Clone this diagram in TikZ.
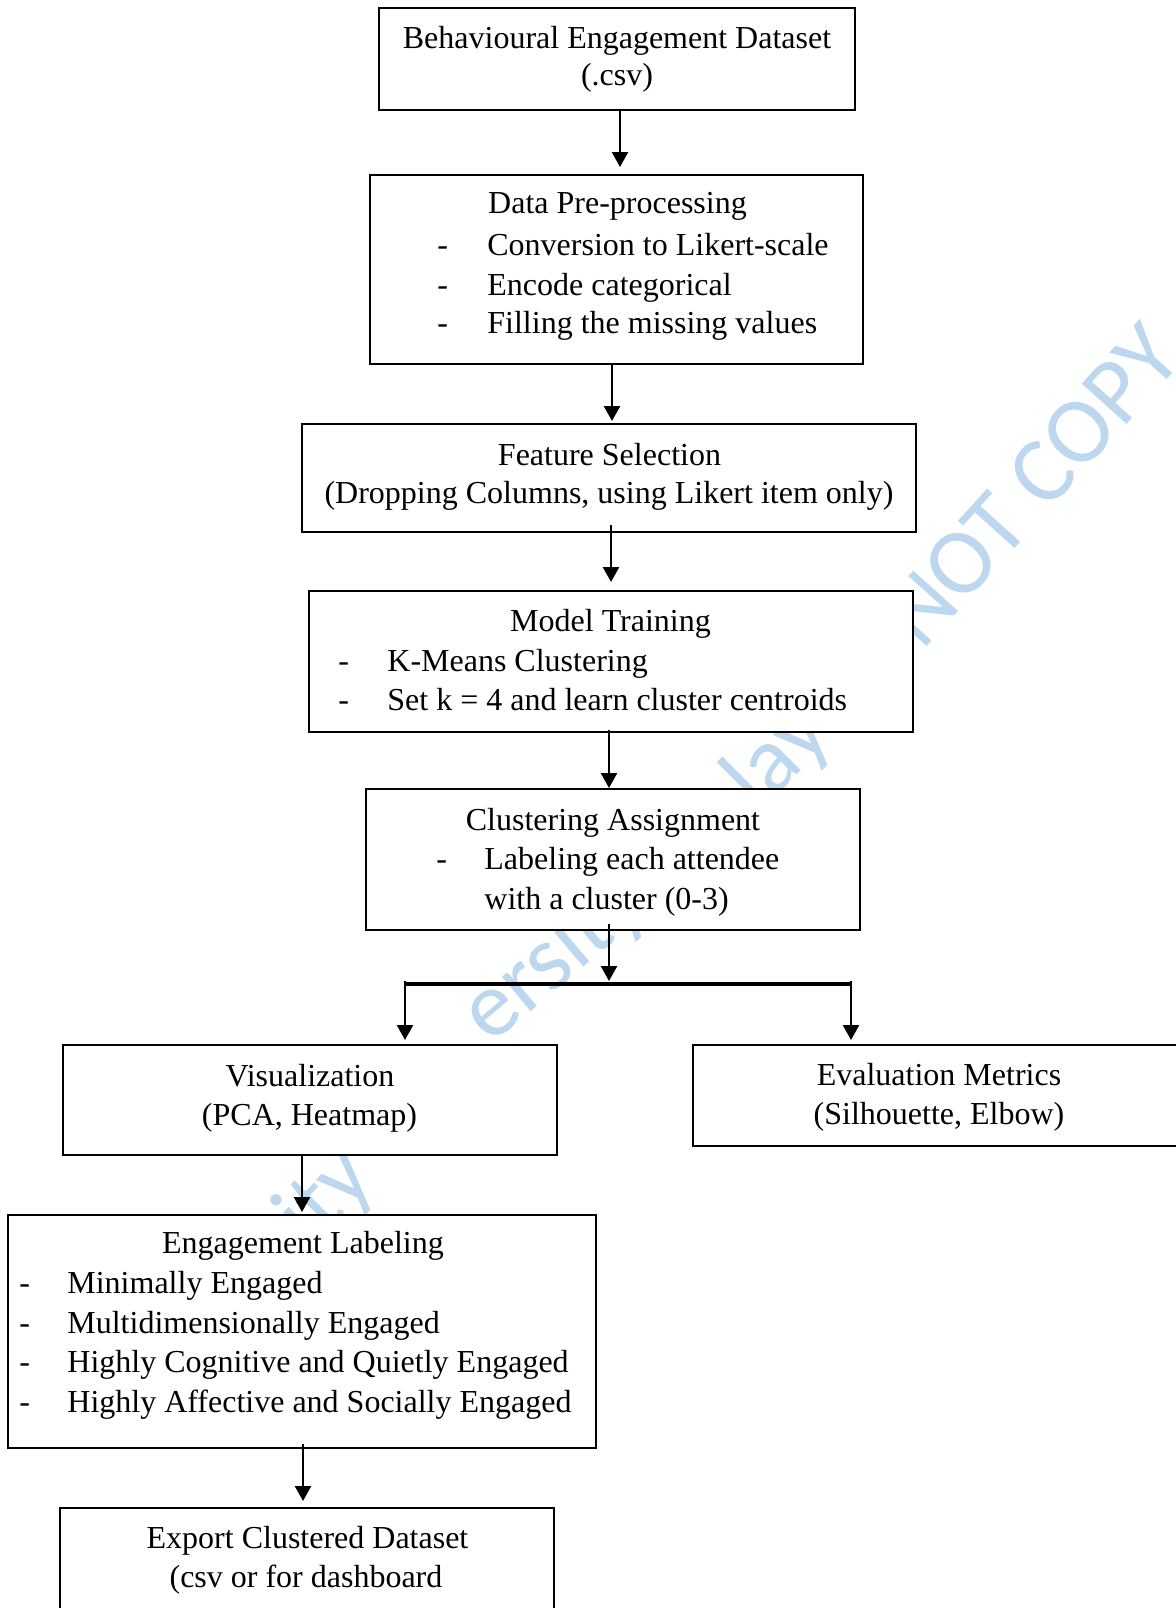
\documentclass[tikz,border=0pt]{standalone}
\usepackage{fontspec}
\setmainfont{Liberation Serif}
\newfontfamily\wmfont{Carlito}
\usetikzlibrary{arrows.meta}
\definecolor{wmblue}{RGB}{189,215,238}
\begin{document}
\begin{tikzpicture}[x=0.5pt,y=-0.5pt,
  box/.style={draw=black,line width=1pt,fill=white,inner sep=0pt,rectangle},
  txt/.style={inner sep=0pt,anchor=base,font=\fontsize{16pt}{19pt}\selectfont},
  txtl/.style={txt,anchor=base west},
  arr/.style={line width=1.2pt,-{Triangle[length=7.5pt,width=8pt]}},
  barline/.style={line width=1.8pt},
  wm/.style={inner sep=0pt,anchor=base west,rotate=45,text=wmblue,font=\wmfont\fontsize{47pt}{47pt}\selectfont}]
\useasboundingbox (0,0) rectangle (1176,1608);
\clip (0,0) rectangle (1176,1608);
\fill[white] (0,0) rectangle (1176,1608);
% watermark fragments
\node[wm] (wm1) at (310,1250) {ity U};
\node[wm,rotate=-5] (wm2) at (490,1046) {ersity};
\node[wm] (wm3) at (758,814) {lay};
\node[wm,rotate=3] (wm4) at (922,652) {NOT COPY};
% boxes
\node[box,minimum width=238pt,minimum height=51pt] (b1) at (617,59) {};
\node[box,minimum width=246.5pt,minimum height=94.5pt] (b2) at (616.5,269.5) {};
\node[box,minimum width=307pt,minimum height=54pt] (b3) at (609,478) {};
\node[box,minimum width=302pt,minimum height=70.5pt] (b4) at (611,661.5) {};
\node[box,minimum width=247pt,minimum height=70.5pt] (b5) at (613,859.5) {};
\node[box,minimum width=247pt,minimum height=55pt] (b6) at (310,1100) {};
\node[box,minimum width=246pt,minimum height=50.5pt] (b7) at (939,1095.5) {};
\node[box,minimum width=294pt,minimum height=116.5pt] (b8) at (302,1331.5) {};
\node[box,minimum width=247pt,minimum height=66pt] (b9) at (307,1574) {};
% texts
\node[txt] (t1a) at (617,48) {Behavioural Engagement Dataset};
\node[txt] (t1b) at (617,85) {(.csv)};
\node[txt] (t2a) at (617.5,213) {Data Pre-processing};
\node[txtl] (d2a) at (437,255) {-};
\node[txtl] (d2b) at (437,295) {-};
\node[txtl] (d2c) at (437,333) {-};
\node[txtl] (t2b) at (487,255) {Conversion to Likert-scale};
\node[txtl] (t2c) at (487,295) {Encode categorical};
\node[txtl] (t2d) at (487,333) {Filling the missing values};
\node[txt] (t3a) at (609.5,465) {Feature Selection};
\node[txt] (t3b) at (609,503) {(Dropping Columns, using Likert item only)};
\node[txt] (t4a) at (610.5,631) {Model Training};
\node[txtl] (d4a) at (338,671) {-};
\node[txtl] (d4b) at (338,710) {-};
\node[txtl] (t4b) at (387,671) {K-Means Clustering};
\node[txtl] (t4c) at (387,710) {Set k = 4 and learn cluster centroids};
\node[txt] (t5a) at (613,830) {Clustering Assignment};
\node[txtl] (d5a) at (436,869) {-};
\node[txtl] (t5b) at (484,869) {Labeling each attendee};
\node[txtl] (t5c) at (484,909) {with a cluster (0-3)};
\node[txt] (t6a) at (310,1086) {Visualization};
\node[txt] (t6b) at (309.5,1125) {(PCA, Heatmap)};
\node[txt] (t7a) at (939,1085) {Evaluation Metrics};
\node[txt] (t7b) at (939,1124) {(Silhouette, Elbow)};
\node[txt] (t8a) at (303,1253) {Engagement Labeling};
\node[txtl] (d8a) at (19,1293) {-};
\node[txtl] (d8b) at (19,1333) {-};
\node[txtl] (d8c) at (19,1372) {-};
\node[txtl] (d8d) at (19,1412) {-};
\node[txtl] (t8b) at (67,1293) {Minimally Engaged};
\node[txtl] (t8c) at (67,1333) {Multidimensionally Engaged};
\node[txtl] (t8d) at (67,1372) {Highly Cognitive and Quietly Engaged};
\node[txtl] (t8e) at (67,1412) {Highly Affective and Socially Engaged};
\node[txt] (t9a) at (307.5,1548) {Export Clustered Dataset};
\node[txt] (t9b) at (306,1587) {(csv or for dashboard};
% connectors
\coordinate (x1) at (620,0);
\coordinate (x2) at (612,0);
\coordinate (x3) at (611,0);
\coordinate (x4) at (609,0);
\coordinate (x6) at (302,0);
\coordinate (x7) at (303,0);
\coordinate (sp) at (609,984);
\coordinate (bl) at (405,984);
\coordinate (br) at (851,984);
\draw[arr,shorten >=3.5pt] (b1.south -| x1) -- (b2.north -| x1);
\draw[arr,shorten >=1pt] (b2.south -| x2) -- (b3.north -| x2);
\draw[arr,shorten <=-4pt,shorten >=4pt] (b3.south -| x3) -- (b4.north -| x3);
\draw[arr,shorten <=-1.5pt] (b4.south -| x4) -- (b5.north -| x4);
\draw[arr,shorten <=-3.5pt,shorten >=1.5pt] (b5.south -| sp) -- (sp);
\draw[barline] (bl) -- (br);
\draw[arr,shorten >=2pt] ([yshift=1.5pt]bl) -- (b6.north -| bl);
\draw[arr,shorten >=2pt] ([yshift=1.5pt]br) -- (b7.north -| br);
\draw[arr,shorten >=1pt] (b6.south -| x6) -- (b8.north -| x6);
\draw[arr,shorten <=-2.5pt,shorten >=3pt] (b8.south -| x7) -- (b9.north -| x7);
\end{tikzpicture}
\end{document}
